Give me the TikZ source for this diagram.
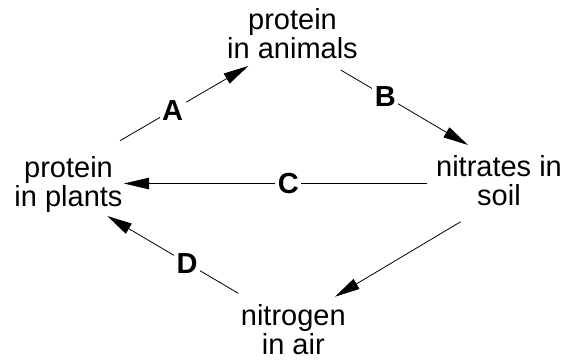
\documentclass[tikz,border=0pt]{standalone}
\usepackage{fontspec}
\setmainfont{Liberation Sans}
\usetikzlibrary{arrows.meta}
\begin{document}
\begin{tikzpicture}[x=1pt,y=-1pt,
  txt/.style={align=center,inner sep=0pt,font=\fontsize{29}{28.8}\selectfont},
  lab/.style={fill=white,inner sep=2.5pt,font=\fontsize{29}{29}\selectfont\bfseries},
  arr/.style={line width=0.8pt,-{Triangle[length=25pt,width=11.5pt]}}]
\useasboundingbox (0,0) rectangle (565,360);
\node[txt] (animals) at (292.5,33.8) {protein\\in animals};
\node[txt] (plants) at (68.5,184.6) {protein\\in plants};
\node[txt] (nitrates) at (499,181) {nitrates in\\soil};
\node[txt] (nitrogen) at (293.3,329.6) {nitrogen\\in air};
\draw[arr] ([shift={(51.5,-43.9)}]plants.center) -- node[lab,pos=0.41]{A} ([shift={(-44.2,32.2)}]animals.center);
\draw[arr] ([shift={(48.2,36.2)}]animals.center) -- node[lab,pos=0.35]{B} ([shift={(-31,-36)}]nitrates.center);
\draw[arr] ([shift={(-72.3,2.5)}]nitrates.center) -- node[lab,pos=0.457]{C} ([shift={(55.5,-1.1)}]plants.center);
\draw[arr] ([shift={(-38.3,40.7)}]nitrates.center) -- ([shift={(41.7,-32.9)}]nitrogen.center);
\draw[arr] ([shift={(-55,-36.3)}]nitrogen.center) -- node[lab,pos=0.39]{D} ([shift={(38.8,31.4)}]plants.center);
\end{tikzpicture}
\end{document}
